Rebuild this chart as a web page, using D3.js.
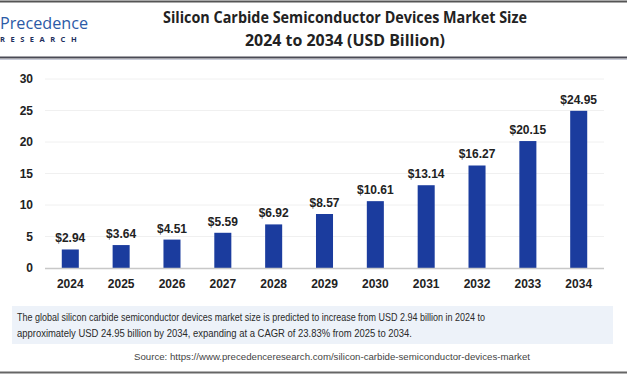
<!DOCTYPE html>
<html>
<head>
<meta charset="utf-8">
<script src="https://cdn.jsdelivr.net/npm/d3@7"></script>
<style>
  html, body { margin: 0; padding: 0; background: #fff; }
</style>
</head>
<body>
<div id="chart"></div>
<script>
let years = ["2024", "2025", "2026", "2027", "2028", "2029", "2030", "2031", "2032", "2033", "2034"];
let values = [2.94, 3.64, 4.51, 5.59, 6.92, 8.57, 10.61, 13.14, 16.27, 20.15, 24.95];
let yTicks = [0, 5, 10, 15, 20, 25, 30];
let titleLines = ["Silicon Carbide Semiconductor Devices Market Size", "2024 to 2034 (USD Billion)"];
let noteLines = [
  "The global silicon carbide semiconductor devices market size is predicted to increase from USD 2.94 billion in 2024 to",
  "approximately USD 24.95 billion by 2034, expanding at a CAGR of 23.83% from 2025 to 2034."
];
let source = "Source: https://www.precedenceresearch.com/silicon-carbide-semiconductor-devices-market";

let width = 627,
  height = 376;

let data = years.map((y, i) => ({year: y, value: values[i]}));

function chart() {
  const svg = d3.select('#chart').append('svg')
    .attr('width', width)
    .attr('height', height)
    .style('font-family', 'Liberation Sans, Arial, sans-serif');

  // header frame
  svg.append('line').attr('x1', 0).attr('x2', width).attr('y1', 1.5).attr('y2', 1.5)
    .attr('stroke', '#555').attr('stroke-width', 2);
  svg.append('line').attr('x1', 0).attr('x2', width).attr('y1', 57.5).attr('y2', 57.5)
    .attr('stroke', '#4a4a55').attr('stroke-width', 2);
  svg.append('line').attr('x1', 0).attr('x2', width).attr('y1', 59.5).attr('y2', 59.5)
    .attr('stroke', '#c8cbd8').attr('stroke-width', 1);
  svg.append('line').attr('x1', 0).attr('x2', width).attr('y1', 372.5).attr('y2', 372.5)
    .attr('stroke', '#666').attr('stroke-width', 2);

  // logo
  const logo = svg.append('g');
  logo.append('text')
    .attr('x', 0).attr('y', 29)
    .style('font', '17px "Open Sans", sans-serif')
    .attr('fill', '#2b5aa6')
    .attr('textLength', 88)
    .attr('lengthAdjust', 'spacingAndGlyphs')
    .text('Precedence');
  logo.append('text')
    .attr('x', 0).attr('y', 42)
    .style('font', 'bold 7.5px "Open Sans", sans-serif')
    .attr('fill', '#1d2f5e')
    .attr('letter-spacing', 5.5)
    .text('RESEARCH');

  // title
  svg.append('g').selectAll('text')
    .data(titleLines)
    .enter().append('text')
      .attr('x', 345)
      .attr('y', (d, i) => 23 + i * 23)
      .attr('text-anchor', 'middle')
      .attr('fill', '#222')
      .attr('textLength', (d, i) => i === 0 ? 364 : 200)
      .attr('lengthAdjust', 'spacingAndGlyphs')
      .style('font', 'bold 15.5px "Open Sans", sans-serif')
      .text(d => d);

  const x = d3.scaleBand()
    .domain(years)
    .range([45, 604])
    .paddingInner(0.665)
    .paddingOuter(0.33);

  const y = d3.scaleLinear()
    .domain([0, 30])
    .range([268, 79]);

  // gridlines
  svg.append('g').selectAll('line')
    .data(yTicks.filter(d => d > 0))
    .enter().append('line')
      .attr('x1', 45).attr('x2', 604)
      .attr('y1', d => y(d)).attr('y2', d => y(d))
      .attr('stroke', '#f0f0f0');

  // y axis
  const yAxis = svg.append('g')
    .attr('transform', 'translate(45,0)')
    .call(d3.axisLeft(y).tickValues(yTicks).tickSize(0).tickPadding(12));
  yAxis.select('.domain').remove();
  yAxis.selectAll('text')
    .attr('fill', '#222')
    .style('font', 'bold 12px "Liberation Sans", Arial, sans-serif');

  // bars
  svg.append('g').selectAll('rect')
    .data(data)
    .enter().append('rect')
      .attr('x', d => x(d.year))
      .attr('y', d => y(d.value))
      .attr('width', x.bandwidth())
      .attr('height', d => y(0) - y(d.value))
      .attr('fill', '#1b3c9e');

  // x axis
  const xAxis = svg.append('g')
    .attr('transform', `translate(0,${y(0)})`)
    .call(d3.axisBottom(x).tickSize(0).tickPadding(11));
  xAxis.select('.domain')
    .attr('d', 'M45,0.5H604')
    .attr('stroke', '#c8c8c8')
    .attr('stroke-width', 1.5);
  xAxis.selectAll('text')
    .attr('fill', '#222')
    .style('font', 'bold 12px "Liberation Sans", Arial, sans-serif');

  // value labels
  svg.append('g').selectAll('text')
    .data(data)
    .enter().append('text')
      .attr('x', d => x(d.year) + x.bandwidth() / 2)
      .attr('y', d => y(d.value) - 7)
      .attr('text-anchor', 'middle')
      .attr('fill', '#222')
      .style('font', 'bold 12px "Liberation Sans", Arial, sans-serif')
      .text(d => `$${d.value.toFixed(2)}`);

  // note box
  svg.append('rect')
    .attr('x', 12).attr('y', 306)
    .attr('width', 601).attr('height', 38)
    .attr('fill', '#edf2f9');
  svg.append('g').selectAll('text')
    .data(noteLines)
    .enter().append('text')
      .attr('x', 17)
      .attr('y', (d, i) => 321 + i * 16)
      .attr('fill', '#2a2a2a')
      .attr('textLength', (d, i) => i === 0 ? 468 : 395)
      .attr('lengthAdjust', 'spacingAndGlyphs')
      .style('font', '11px "Liberation Sans Narrow", "Liberation Sans", Arial, sans-serif')
      .text(d => d);

  svg.append('text')
    .attr('x', 332).attr('y', 360)
    .attr('text-anchor', 'middle')
    .attr('fill', '#444')
    .attr('textLength', 396)
    .attr('lengthAdjust', 'spacingAndGlyphs')
    .style('font', '9px "Liberation Sans", Arial, sans-serif')
    .text(source);

  return svg.node();
}

chart();
</script>
</body>
</html>
